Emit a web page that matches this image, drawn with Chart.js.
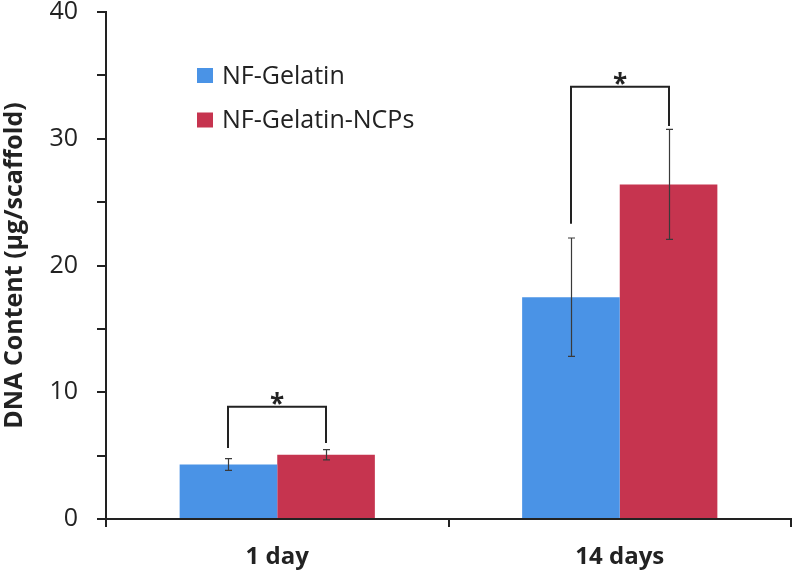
<!DOCTYPE html>
<html>
<head>
<meta charset="utf-8">
<style>
  html, body { margin: 0; padding: 0; background: #ffffff; }
  #c { display: block; }
</style>
<script src="https://cdn.jsdelivr.net/npm/chart.js@4.4.1/dist/chart.umd.min.js"></script>
</head>
<body>
<canvas id="c" width="792" height="576"></canvas>
<script>
// ---- data ----
const categories = ['1 day', '14 days'];
const seriesNames = ['NF-Gelatin', 'NF-Gelatin-NCPs'];
const gelatinValues = [4.3, 17.5];
const ncpsValues = [5.07, 26.4];
const gelatinErrors = [0.47, 4.67];
const ncpsErrors = [0.40, 4.34];
const bracketTops = [8.85, 34.1];
const bracketLeftEnds = [5.6, 23.3];
const bracketRightEnds = [6.0, 31.0];
const bracketMarks = ['*', '*'];
const yTickValues = [0, 10, 20, 30, 40];
const axisTitle = 'DNA Content (\u00b5g/scaffold)';

const BLUE = '#4a93e6';
const RED = '#c6344f';
const INK = '#222222';
const FONT = "'Open Sans', 'DejaVu Sans', sans-serif";

const errors = [gelatinErrors, ncpsErrors];

const overlayPlugin = {
  id: 'overlay',
  afterDatasetsDraw(chart) {
    const ctx = chart.ctx;
    const y = chart.scales.y;
    ctx.save();
    // error bars
    chart.data.datasets.forEach((ds, di) => {
      const meta = chart.getDatasetMeta(di);
      meta.data.forEach((bar, i) => {
        const v = ds.data[i];
        const e = errors[di][i];
        const x = Math.round(bar.x) + 0.5;
        const yt = y.getPixelForValue(v + e);
        const yb = y.getPixelForValue(v - e);
        ctx.strokeStyle = '#3a3a3a';
        ctx.lineWidth = 1.2;
        ctx.beginPath();
        ctx.moveTo(x, yt); ctx.lineTo(x, yb);
        ctx.moveTo(x - 3.5, yt); ctx.lineTo(x + 3.5, yt);
        ctx.moveTo(x - 3.5, yb); ctx.lineTo(x + 3.5, yb);
        ctx.stroke();
      });
    });
    // significance brackets
    const m0 = chart.getDatasetMeta(0);
    const m1 = chart.getDatasetMeta(1);
    categories.forEach((c, i) => {
      const xl = Math.round(m0.data[i].x);
      const xr = Math.round(m1.data[i].x);
      const yt = y.getPixelForValue(bracketTops[i]);
      const yl = y.getPixelForValue(bracketLeftEnds[i]);
      const yr = y.getPixelForValue(bracketRightEnds[i]);
      ctx.strokeStyle = INK;
      ctx.lineWidth = 2;
      ctx.lineJoin = 'miter';
      ctx.beginPath();
      ctx.moveTo(xl, yl); ctx.lineTo(xl, yt); ctx.lineTo(xr, yt); ctx.lineTo(xr, yr);
      ctx.stroke();
      ctx.fillStyle = INK;
      ctx.font = "bold 26px " + FONT;
      ctx.textAlign = 'center';
      ctx.textBaseline = 'alphabetic';
      ctx.fillText(bracketMarks[i], (xl + xr) / 2, yt + 6);
    });
    ctx.restore();
  },
  afterDraw(chart) {
    const ctx = chart.ctx;
    ctx.save();
    const rows = [75.5, 120];
    chart.data.datasets.forEach((ds, di) => {
      const cy = rows[di];
      ctx.fillStyle = ds.backgroundColor;
      ctx.fillRect(197, cy - 7.5, 16, 15);
      ctx.fillStyle = INK;
      ctx.font = "25px " + FONT;
      ctx.textAlign = 'left';
      ctx.textBaseline = 'middle';
      ctx.fillText(ds.label, 222, cy + 1);
    });
    ctx.restore();
  }
};

new Chart(document.getElementById('c'), {
  type: 'bar',
  data: {
    labels: categories,
    datasets: [
      { label: seriesNames[0], data: gelatinValues, backgroundColor: BLUE, borderWidth: 0 },
      { label: seriesNames[1], data: ncpsValues, backgroundColor: RED, borderWidth: 0 }
    ]
  },
  options: {
    responsive: false,
    animation: false,
    devicePixelRatio: 1,
    layout: { padding: { top: 12, right: 1, left: 0, bottom: 0 } },
    categoryPercentage: 0.57,
    barPercentage: 1.0,
    plugins: {
      legend: { display: false },
      tooltip: { enabled: false }
    },
    scales: {
      x: {
        offset: true,
        grid: { offset: true, drawOnChartArea: false, drawTicks: true, tickLength: 8, color: INK, lineWidth: 2 },
        border: { display: true, color: INK, width: 2 },
        ticks: { color: INK, font: { family: FONT, size: 24, weight: 'bold' }, padding: 16 },
        afterFit(s) { s.height = 57; s.paddingLeft = 0; s.paddingRight = 0; }
      },
      y: {
        min: 0, max: 40,
        grid: { drawOnChartArea: false, drawTicks: true, tickLength: 9, color: INK, lineWidth: 2 },
        border: { display: true, color: INK, width: 2 },
        ticks: {
          stepSize: 5,
          color: INK,
          padding: 19,
          font: { family: FONT, size: 25 },
          callback(v) { return yTickValues.includes(v) ? String(v) : ''; }
        },
        title: {
          display: true, text: axisTitle, color: INK,
          font: { family: FONT, size: 25, weight: 'bold' },
          padding: { top: 0, bottom: 0 }
        },
        afterFit(s) { s.width = 106; s.paddingTop = 0; s.paddingBottom = 0; }
      }
    }
  },
  plugins: [overlayPlugin]
});
</script>
</body>
</html>
